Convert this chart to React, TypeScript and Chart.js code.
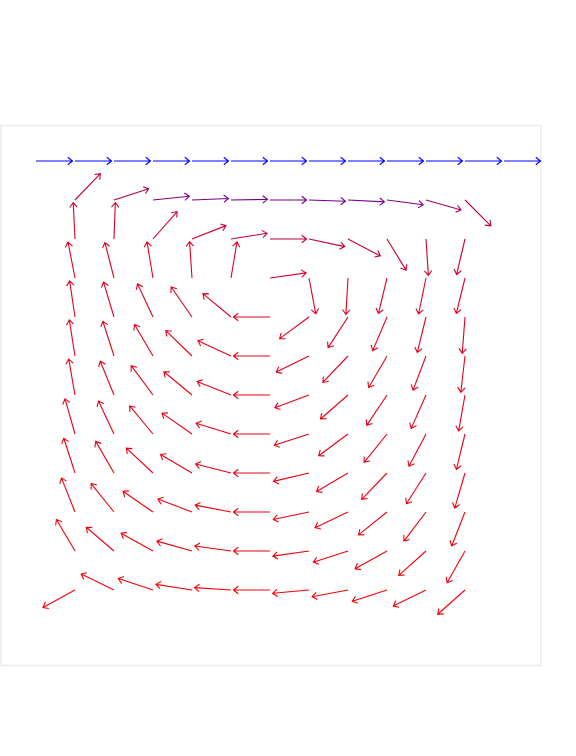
import React, { useEffect, useRef } from "react";
import { Chart, registerables } from "chart.js";

Chart.register(...registerables);

// Grid positions (unit square, 13 nodes per side)
const lidX = [0, 1 / 12, 2 / 12, 3 / 12, 4 / 12, 5 / 12, 6 / 12, 7 / 12, 8 / 12, 9 / 12, 10 / 12, 11 / 12, 1];
const lidY = 1;
const lidAngle = 0; // degrees, lid moves to the right
const lidSpeed = 1;

const interiorX = [1 / 12, 2 / 12, 3 / 12, 4 / 12, 5 / 12, 6 / 12, 7 / 12, 8 / 12, 9 / 12, 10 / 12, 11 / 12];
// rows from top (y = 11/12) to bottom (y = 1/12)
const rowY = [11 / 12, 10 / 12, 9 / 12, 8 / 12, 7 / 12, 6 / 12, 5 / 12, 4 / 12, 3 / 12, 2 / 12, 1 / 12];

// Flow direction (degrees, counter-clockwise from +x) at each interior node
const angles: number[][] = [
  [46, 18, 6, 2.4, 1, 0, -2, -3, -7.6, -16, -45],
  [92.8, 87.9, 48.7, 21.5, 9, 0, -12, -27.6, -58.6, -86.2, -103.3],
  [101, 104.4, 99.4, 93.8, 80.6, 8.1, -79.3, -93.3, -103.5, -101.6, -103.7],
  [98.5, 106.7, 115, 124.8, 140.3, 180, -143.7, -123, -113, -103.8, -94.3],
  [99, 107.8, 120.4, 135.8, 155.1, 180, -153.8, -133.6, -120.1, -110.8, -96.6],
  [99.9, 112.1, 126.6, 140.4, 158.2, 180, -159.6, -138.9, -123.7, -113.9, -100],
  [105.9, 115.2, 129.7, 145.2, 162.8, 180, -162.1, -143.5, -128.9, -117.8, -103.6],
  [107.9, 120, 137, 149.6, 165.6, 180, -166.7, -149.4, -133.9, -122.5, -106.3],
  [111.7, 128.8, 145.4, 159.1, 169.2, 180, -168.2, -154.5, -141.2, -127.2, -111.4],
  [120.6, 139.4, 151, 164.3, 172.1, 180, -172, -162, -151, -138.1, -119.3],
  [-151.4, 154.1, 161.8, 171.1, 176.3, 180, -174.8, -169.3, -162.1, -153.9, -138.3],
];

// Relative speed (0..1) at each interior node
const speeds: number[][] = [
  [0.25, 0.32, 0.45, 0.52, 0.55, 0.55, 0.55, 0.52, 0.45, 0.35, 0.25],
  [0.18, 0.18, 0.18, 0.2, 0.22, 0.25, 0.22, 0.2, 0.18, 0.18, 0.18],
  [0.14, 0.14, 0.13, 0.13, 0.14, 0.16, 0.14, 0.13, 0.13, 0.14, 0.14],
  [0.12, 0.12, 0.11, 0.11, 0.11, 0.12, 0.11, 0.11, 0.11, 0.12, 0.12],
  [0.1, 0.1, 0.1, 0.1, 0.1, 0.1, 0.1, 0.1, 0.1, 0.1, 0.1],
  [0.09, 0.09, 0.09, 0.09, 0.09, 0.09, 0.09, 0.09, 0.09, 0.09, 0.09],
  [0.08, 0.08, 0.08, 0.08, 0.08, 0.08, 0.08, 0.08, 0.08, 0.08, 0.08],
  [0.07, 0.07, 0.07, 0.07, 0.07, 0.07, 0.07, 0.07, 0.07, 0.07, 0.07],
  [0.05, 0.05, 0.05, 0.05, 0.05, 0.05, 0.05, 0.05, 0.05, 0.05, 0.05],
  [0.04, 0.04, 0.04, 0.04, 0.04, 0.04, 0.04, 0.04, 0.04, 0.04, 0.04],
  [0.02, 0.02, 0.02, 0.02, 0.02, 0.02, 0.02, 0.02, 0.02, 0.02, 0.02],
];

const ARROW_LEN = 0.078; // data units (normalised arrows)

type Pt = { x: number; y: number; ang: number; spd: number };

function buildPoints(): Pt[] {
  const pts: Pt[] = [];
  lidX.forEach((x) => pts.push({ x, y: lidY, ang: lidAngle, spd: lidSpeed }));
  rowY.forEach((y, r) => {
    interiorX.forEach((x, c) => {
      pts.push({ x, y, ang: angles[r][c], spd: speeds[r][c] });
    });
  });
  return pts;
}

function speedColor(t: number) {
  const r = Math.round(255 * (1 - t));
  const b = Math.round(255 * t);
  return `rgb(${r},0,${b})`;
}

const framePlugin = {
  id: "frame",
  beforeDraw(chart: any) {
    const { ctx, chartArea } = chart;
    ctx.save();
    ctx.fillStyle = "#ffffff";
    ctx.fillRect(0, 0, chart.width, chart.height);
    ctx.strokeStyle = "#ebebeb";
    ctx.lineWidth = 1.5;
    ctx.strokeRect(chartArea.left + 0.75, chartArea.top + 0.5, chartArea.right - chartArea.left, chartArea.bottom - chartArea.top);
    ctx.restore();
  },
};

const quiverPlugin = {
  id: "quiver",
  afterDatasetsDraw(chart: any) {
    const { ctx } = chart;
    const xs = chart.scales.x;
    const ys = chart.scales.y;
    const data = chart.data.datasets[0].data as Pt[];
    ctx.save();
    ctx.lineWidth = 1.1;
    ctx.lineCap = "butt";
    ctx.lineJoin = "miter";
    data.forEach((p) => {
      const a = (p.ang * Math.PI) / 180;
      const x0 = xs.getPixelForValue(p.x);
      const y0 = ys.getPixelForValue(p.y);
      const x1 = xs.getPixelForValue(p.x + ARROW_LEN * Math.cos(a));
      const y1 = ys.getPixelForValue(p.y + ARROW_LEN * Math.sin(a));
      const th = Math.atan2(y1 - y0, x1 - x0);
      const hl = 6;
      const ha = (38 * Math.PI) / 180;
      ctx.strokeStyle = speedColor(p.spd);
      ctx.beginPath();
      ctx.moveTo(x0, y0);
      ctx.lineTo(x1, y1);
      ctx.moveTo(x1 - hl * Math.cos(th - ha), y1 - hl * Math.sin(th - ha));
      ctx.lineTo(x1, y1);
      ctx.lineTo(x1 - hl * Math.cos(th + ha), y1 - hl * Math.sin(th + ha));
      ctx.stroke();
    });
    ctx.restore();
  },
};

export default function App() {
  const ref = useRef<HTMLCanvasElement | null>(null);
  useEffect(() => {
    if (!ref.current) return;
    const chart = new Chart(ref.current, {
      type: "scatter",
      data: {
        datasets: [
          {
            data: buildPoints() as any,
            pointRadius: 0,
            pointHoverRadius: 0,
            showLine: false,
          },
        ],
      },
      options: {
        responsive: false,
        animation: false,
        devicePixelRatio: 1,
        layout: { padding: { left: 0, top: 125, right: 36, bottom: 91 } },
        plugins: { legend: { display: false }, tooltip: { enabled: false } },
        scales: {
          x: { type: "linear", min: -1 / 13, max: 1 + 1 / 13, display: false },
          y: { type: "linear", min: -1 / 13, max: 1 + 1 / 13, display: false },
        },
      },
      plugins: [framePlugin, quiverPlugin],
    });
    return () => chart.destroy();
  }, []);
  return (
    <div style={{ position: "absolute", left: 0, top: 0, width: 576, height: 756 }}>
      <canvas ref={ref} width={576} height={756} style={{ display: "block" }} />
    </div>
  );
}
